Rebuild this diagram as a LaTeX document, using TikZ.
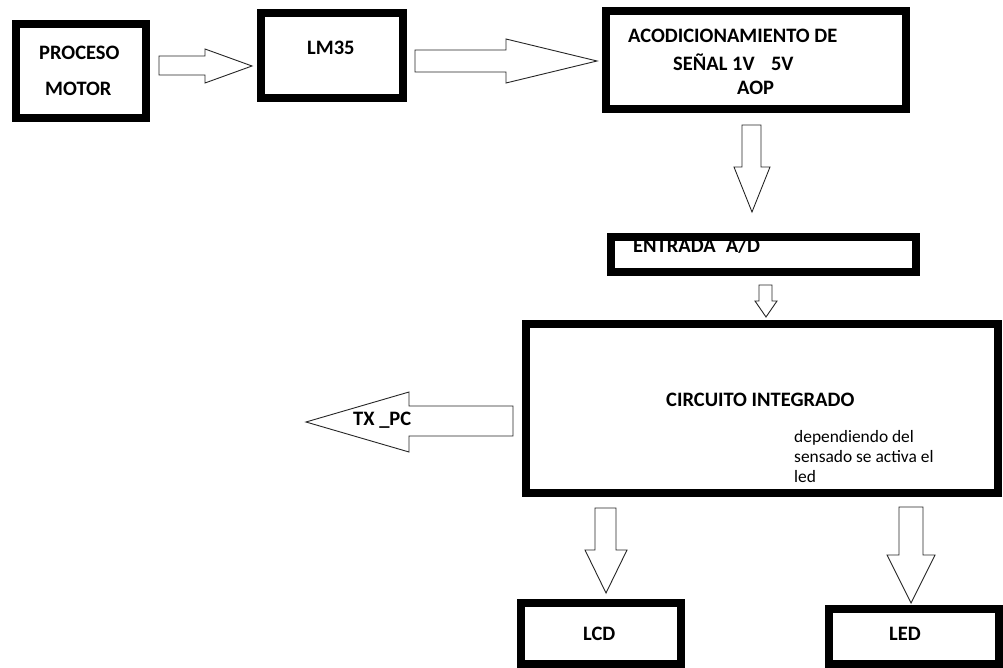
\documentclass[tikz,border=0pt]{standalone}
\usepackage{fontspec}
\setmainfont{Carlito}
\begin{document}
\begin{tikzpicture}[x=1pt,y=-1pt,
  blk/.style={draw=black,line width=8pt,fill=white,inner sep=0pt},
  barrow/.style={draw=black!85,line width=0.9pt,fill=white,line join=miter},
  lbl/.style={anchor=base west,inner sep=0pt,font=\fontsize{20.5}{23}\selectfont\bfseries},
  small/.style={anchor=base west,inner sep=0pt,font=\fontsize{17.4}{20}\selectfont}]
\useasboundingbox[fill=white] (0,0) rectangle (1003,668);
% boxes
\node[blk,minimum width=130pt,minimum height=94pt] (proc) at (81,71) {};
\node[blk,minimum width=142pt,minimum height=85pt] (lm) at (332,55.5) {};
\node[blk,minimum width=300pt,minimum height=98pt] (acond) at (756,60) {};
\node[blk,minimum width=305pt,minimum height=35pt] (entr) at (763.5,254.5) {};
\node[blk,minimum width=472pt,minimum height=169pt] (circ) at (762,408.5) {};
\node[blk,minimum width=160pt,minimum height=61pt] (lcd) at (601,633.5) {};
\node[blk,minimum width=170pt,minimum height=55pt] (led) at (914,636.5) {};
% block arrows
\draw[barrow] (159,56)--(205,56)--(205,49)--(252,66)--(205,83)--(205,75)--(159,75)--cycle;
\draw[barrow] (415,50)--(506,50)--(506,39)--(597,61)--(506,83)--(506,72)--(415,72)--cycle;
\draw[barrow] (742,125)--(761,125)--(761,167)--(770,167)--(752,212)--(734,167)--(742,167)--cycle;
\draw[barrow] (759,285)--(772,285)--(772,301)--(777,301)--(766,317)--(755,301)--(759,301)--cycle;
\draw[barrow] (513,406)--(513,436)--(409,436)--(409,452)--(306,422)--(409,392)--(409,406)--cycle;
\draw[barrow] (595,508)--(616,508)--(616,550)--(627,550)--(606,593)--(585,550)--(595,550)--cycle;
\draw[barrow] (899,507)--(923,507)--(923,555)--(935,555)--(911,603)--(887,555)--(899,555)--cycle;
% texts
\node[lbl] (t1) at (39,60) {PROCESO};
\node[lbl] (t2) at (45,96) {MOTOR};
\node[lbl] (t3) at (307,55) {LM35};
\node[lbl] (t4) at (628,43) {ACODICIONAMIENTO DE};
\node[lbl] (t5) at (673,70.5) {SEÑAL 1V\hspace{0.8em}5V};
\node[lbl] (t6) at (737,95) {AOP};
\node[lbl] (t7) at (633,252.5) {ENTRADA\hspace{0.5em}A/D};
\node[lbl] (t8) at (353,425) {TX \_PC};
\node[lbl] (t9) at (666,406) {CIRCUITO INTEGRADO};
\node[small] (t10) at (794,442.7) {dependiendo del};
\node[small] (t11) at (794,462.7) {sensado se activa el};
\node[small] (t12) at (794,482.7) {led};
\node[lbl] (t13) at (583,640) {LCD};
\node[lbl] (t14) at (889,640) {LED};
\end{tikzpicture}
\end{document}
